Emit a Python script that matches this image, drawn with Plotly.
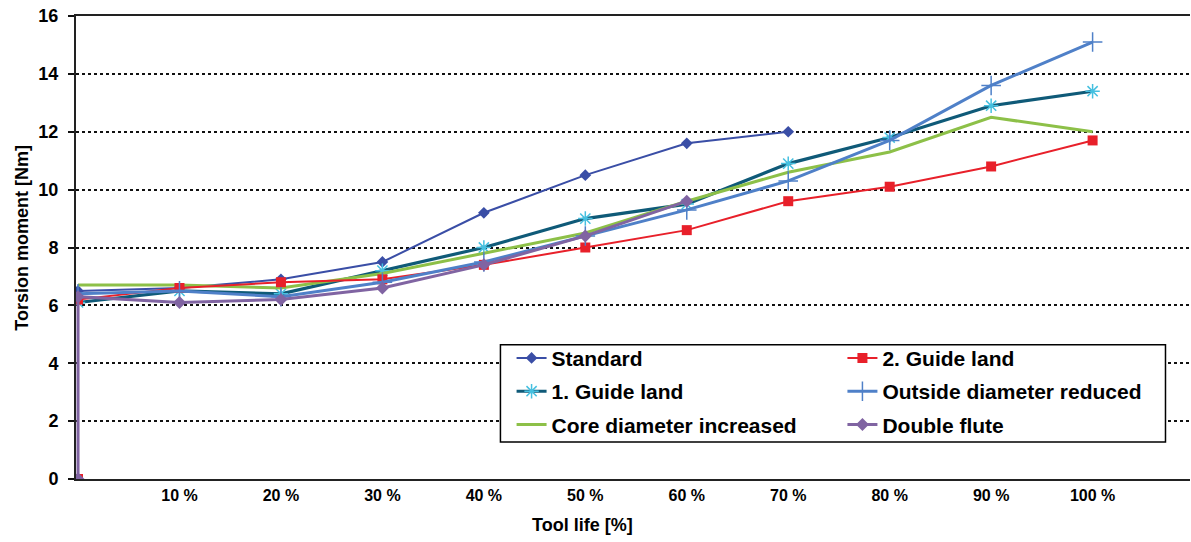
import plotly.graph_objects as go

# ---- data ----
tool_life = [0, 10, 20, 30, 40, 50, 60, 70, 80, 90, 100]
tick_vals = [10, 20, 30, 40, 50, 60, 70, 80, 90, 100]
tick_text = ["10 %", "20 %", "30 %", "40 %", "50 %", "60 %", "70 %", "80 %", "90 %", "100 %"]

standard_x = [0, 10, 20, 30, 40, 50, 60, 70]
standard_y = [6.5, 6.6, 6.9, 7.5, 9.2, 10.5, 11.6, 12.0]

guide2_x = [0, 0, 10, 20, 30, 40, 50, 60, 70, 80, 90, 100]
guide2_y = [0, 6.2, 6.6, 6.8, 6.9, 7.4, 8.0, 8.6, 9.6, 10.1, 10.8, 11.7]

guide1_x = tool_life
guide1_y = [6.1, 6.5, 6.4, 7.2, 8.0, 9.0, 9.5, 10.9, 11.8, 12.9, 13.4]

outside_x = tool_life
outside_y = [6.4, 6.5, 6.3, 6.8, 7.5, 8.4, 9.3, 10.3, 11.7, 13.6, 15.1]

core_x = tool_life
core_y = [6.7, 6.7, 6.6, 7.1, 7.8, 8.5, 9.6, 10.6, 11.3, 12.5, 12.0]

double_x = [0, 0, 10, 20, 30, 40, 50, 60]
double_y = [0, 6.3, 6.1, 6.2, 6.6, 7.4, 8.4, 9.6]

y_ticks = [0, 2, 4, 6, 8, 10, 12, 14, 16]

FONT = "Liberation Sans, Arial, sans-serif"

fig = go.Figure()

def add(name, x, y, color, width, legend, group, marker=None):
    kw = dict(mode="lines")
    if marker:
        kw["mode"] = "lines+markers"
        kw["marker"] = marker
    fig.add_trace(go.Scatter(x=x, y=y, name=name, line=dict(color=color, width=width),
                             legend=legend, legendgroup=group, **kw))

add("Standard", standard_x, standard_y, "#3a4ea6", 2, "legend", "a",
    marker=dict(symbol="diamond", size=9, color="#3a4ea6"))
add("1. Guide land", guide1_x, guide1_y, "#0f5a78", 3.2, "legend", "b",
    marker=dict(symbol="asterisk-open", size=12, color="#45c0e0", line=dict(width=1.5, color="#45c0e0")))
add("Core diameter increased", core_x, core_y, "#8dc048", 3, "legend", "c")
add("2. Guide land", guide2_x, guide2_y, "#e8202a", 2, "legend2", "d",
    marker=dict(symbol="square", size=10, color="#e8202a"))
add("Outside diameter reduced", outside_x, outside_y, "#4f80c8", 3, "legend2", "e",
    marker=dict(symbol="cross-thin-open", size=14, color="#4f80c8", line=dict(width=1.5, color="#4f80c8")))
add("Double flute", double_x, double_y, "#8064a2", 3, "legend2", "f",
    marker=dict(symbol="diamond", size=10, color="#8064a2"))

leg_common = dict(bgcolor="rgba(0,0,0,0)", borderwidth=0,
                  font=dict(family=FONT, size=21, color="#000", weight="bold"),
                  tracegroupgap=3, xanchor="left", yanchor="top", traceorder="grouped")

fig.update_layout(
    width=1191, height=542,
    margin=dict(l=76, r=1, t=16, b=63, autoexpand=False),
    paper_bgcolor="white", plot_bgcolor="white",
    font=dict(family=FONT, color="#000"),
    showlegend=True,
    legend=dict(x=0.391, y=0.305, **leg_common),
    legend2=dict(x=0.688, y=0.305, **leg_common),
    xaxis=dict(range=[-0.2, 109.6], tickvals=tick_vals, ticktext=tick_text,
               showgrid=False, zeroline=False, showline=True, linecolor="#222", linewidth=2,
               mirror=True, ticks="", ticklabelstandoff=1, layer="below traces",
               tickfont=dict(family=FONT, size=16, color="#000", weight="bold")),
    yaxis=dict(range=[0, 16], tickvals=y_ticks, showgrid=True, gridcolor="#111", griddash="dot",
               gridwidth=1.5, zeroline=False, showline=True, linecolor="#222", linewidth=2,
               ticks="outside", ticklen=6, tickcolor="#111", tickwidth=1.5,
               ticklabelstandoff=6, layer="below traces",
               tickfont=dict(family=FONT, size=18, color="#000", weight="bold")),
    shapes=[dict(type="rect", xref="paper", yref="paper", x0=0.381, x1=0.978, y0=0.08, y1=0.29,
                 fillcolor="white", line=dict(color="#000", width=1.5), layer="above")],
    annotations=[
        dict(text="<b>Tool life [%]</b>", xref="paper", yref="paper", x=0.455, y=-0.1,
             xanchor="center", yanchor="middle", showarrow=False,
             font=dict(family=FONT, size=18, color="#000")),
        dict(text="<b>Torsion moment [Nm]</b>", xref="paper", yref="paper", x=-0.048, y=0.52,
             xanchor="center", yanchor="middle", showarrow=False, textangle=-90,
             font=dict(family=FONT, size=18, color="#000")),
    ],
)

fig.write_html("out.html", config={"displayModeBar": False},
               post_script="document.body.style.margin='0';")
